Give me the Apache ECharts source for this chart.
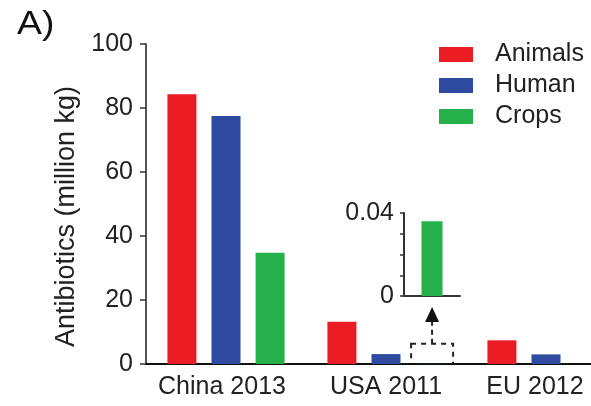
<!DOCTYPE html>
<html>
<head>
<meta charset="utf-8">
<script src="https://cdn.jsdelivr.net/npm/echarts@6/dist/echarts.min.js"></script>
<style>
  html, body { margin: 0; padding: 0; background: #fff; }
  #chart { width: 591px; height: 406px; }
</style>
</head>
<body>
<div id="chart"></div>
<script>
// Antibiotic usage by sector (million kg)
const regions = ['China 2013', 'USA 2011', 'EU 2012'];
const animals = [84.3, 13.2, 7.4];
const human = [77.5, 3.1, 3.0];
const crops = [34.8, 0.036, null];
const yTicks = [0, 20, 40, 60, 80, 100];
// Enlarged view of the USA crops bar
const insetCategory = ['USA 2011'];
const insetCrops = [crops[1]];
const insetTicks = [0, 0.04];

const FONT = 'Liberation Sans, Arial, sans-serif';
const TEXT = '#222';
const colors = { Animals: '#ec1c24', Human: '#2f4b9f', Crops: '#25b04a' };

// small horizontal offsets for the category labels
const labelShift = { 'China 2013': 8, 'USA 2011': 0, 'EU 2012': 22 };
const rich = {};
regions.forEach((r, i) => {
  rich['c' + i] = { fontFamily: FONT, fontSize: 25, color: TEXT, padding: [0, labelShift[r], 0, 0] };
});

const chart = echarts.init(document.getElementById('chart'), null, { renderer: 'canvas' });

const titleText = { type: 'text', left: 17, top: 8, scaleX: 1.1,
  style: { text: 'A)', font: '34px ' + FONT, fill: '#111' } };

const option = {
  animation: false,
  backgroundColor: '#fff',
  textStyle: { fontFamily: FONT },
  legend: {
    orient: 'vertical',
    left: 439,
    top: 42,
    padding: 0,
    itemWidth: 34,
    itemHeight: 15,
    itemGap: 6,
    icon: 'rect',
    data: ['Animals', 'Human', 'Crops'],
    textStyle: { fontFamily: FONT, fontSize: 25, color: TEXT, padding: [0, 0, 0, 17] }
  },
  grid: [
    { left: 146, top: 44, width: 480, height: 320, outerBoundsMode: 'none', containLabel: false },
    { left: 404, top: 213, width: 56, height: 83, outerBoundsMode: 'none', containLabel: false }
  ],
  xAxis: [
    {
      type: 'category', gridIndex: 0, data: regions,
      axisLine: { lineStyle: { color: '#111', width: 2 } },
      axisTick: { alignWithLabel: true, length: 5, lineStyle: { color: '#111', width: 1.5 } },
      axisLabel: {
        margin: 11,
        formatter: (v) => '{c' + regions.indexOf(v) + '|' + v + '}',
        rich: rich
      }
    },
    {
      type: 'category', gridIndex: 1, data: insetCategory,
      axisLine: { lineStyle: { color: '#333', width: 2 } },
      axisTick: { show: false },
      axisLabel: { show: false }
    }
  ],
  yAxis: [
    {
      type: 'value', gridIndex: 0, min: 0, max: 100, interval: 20,
      name: 'Antibiotics (million kg)',
      nameLocation: 'middle',
      nameGap: 47,
      nameTextStyle: { fontFamily: FONT, fontSize: 27, color: TEXT, padding: [0, 25, 0, 0] },
      axisLine: { show: true, lineStyle: { color: '#555', width: 2 } },
      axisTick: { show: true, length: 6, lineStyle: { color: '#333', width: 1.5 } },
      axisLabel: {
        margin: 13, fontFamily: FONT, fontSize: 25, color: TEXT,
        formatter: (v) => yTicks.includes(v) ? String(v) : ''
      },
      splitLine: { show: false }
    },
    {
      type: 'value', gridIndex: 1, min: 0, max: 0.04, interval: 0.01,
      axisLine: { show: true, lineStyle: { color: '#333', width: 2 } },
      axisTick: { show: true, length: 4, lineStyle: { color: '#333', width: 1.5 } },
      axisLabel: {
        margin: 10, fontFamily: FONT, fontSize: 25, color: TEXT,
        formatter: (v) => insetTicks.some(t => Math.abs(t - v) < 1e-9) ? String(v) : ''
      },
      splitLine: { show: false }
    }
  ],
  series: [
    { name: 'Animals', type: 'bar', xAxisIndex: 0, yAxisIndex: 0, data: animals,
      barWidth: 29, barGap: '52%', itemStyle: { color: colors.Animals } },
    { name: 'Human', type: 'bar', xAxisIndex: 0, yAxisIndex: 0, data: human,
      barWidth: 29, barGap: '52%', itemStyle: { color: colors.Human } },
    { name: 'Crops', type: 'bar', xAxisIndex: 0, yAxisIndex: 0, data: crops,
      barWidth: 29, barGap: '52%', itemStyle: { color: colors.Crops } },
    { name: 'Crops', type: 'bar', xAxisIndex: 1, yAxisIndex: 1, data: insetCrops,
      barWidth: 21, itemStyle: { color: colors.Crops } }
  ],
  graphic: [titleText]
};

chart.setOption(option);

// Dashed box around the tiny USA crops bar, and an arrow up to the inset
(function addCallout() {
  const usaCenter = chart.convertToPixel({ xAxisIndex: 0 }, regions[1]);
  const cropsX = usaCenter + 29 + 0.52 * 29 + 2; // centre of the third bar in the group
  const y0 = chart.convertToPixel({ yAxisIndex: 0 }, 0);
  const yTop = chart.convertToPixel({ yAxisIndex: 0 }, 6.3);
  const insetBase = chart.convertToPixel({ yAxisIndex: 1 }, 0);
  const halfW = 21;
  const arrowTip = insetBase + 11;
  const headLen = 15;
  chart.setOption({
    graphic: [
      titleText,
      { type: 'rect', silent: true,
        shape: { x: cropsX - halfW, y: yTop, width: halfW * 2, height: y0 - yTop },
        style: { fill: 'none', stroke: '#222', lineWidth: 2, lineDash: [5, 5] } },
      { type: 'line', silent: true,
        shape: { x1: cropsX, y1: yTop, x2: cropsX, y2: arrowTip + headLen },
        style: { stroke: '#222', lineWidth: 2, lineDash: [5, 4] } },
      { type: 'polygon', silent: true,
        shape: { points: [[cropsX, arrowTip], [cropsX - 7, arrowTip + headLen], [cropsX + 7, arrowTip + headLen]] },
        style: { fill: '#111' } }
    ]
  });
})();
</script>
</body>
</html>
